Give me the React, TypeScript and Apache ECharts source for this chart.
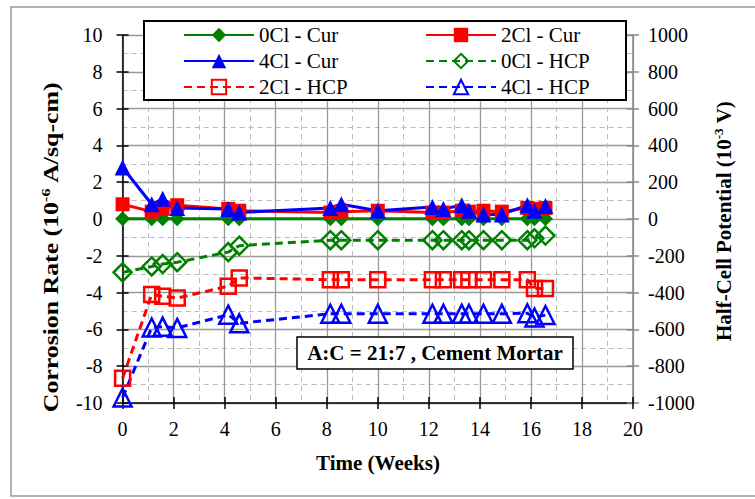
import React, { useEffect, useRef } from "react";
import * as echarts from "echarts";

const weeks = [0, 1.14, 1.57, 2.14, 4.14, 4.57, 8.14, 8.57, 10, 12.14, 12.57, 13.29, 13.57, 14.14, 14.86, 15.86, 16.14, 16.57];
const cur0 = [0.02, 0.02, 0.02, 0.02, 0.02, 0.02, 0.02, 0.02, 0.02, 0.02, 0.02, 0.02, 0.02, 0.02, 0.02, 0.02, 0.02, 0.02];
const cur2 = [0.8, 0.4, 0.55, 0.75, 0.55, 0.45, 0.35, 0.4, 0.45, 0.35, 0.35, 0.45, 0.4, 0.45, 0.4, 0.6, 0.55, 0.6];
const cur4 = [2.8, 0.8, 1.1, 0.6, 0.55, 0.35, 0.6, 0.8, 0.45, 0.65, 0.55, 0.75, 0.45, 0.25, 0.25, 0.75, 0.45, 0.7];
const hcp0 = [-290, -258, -245, -235, -180, -145, -115, -115, -115, -115, -115, -115, -115, -115, -115, -115, -105, -90];
const hcp2 = [-865, -410, -420, -430, -365, -320, -330, -330, -330, -330, -330, -330, -330, -330, -330, -330, -378, -378];
const hcp4 = [-970, -590, -585, -592, -520, -567, -515, -515, -515, -515, -515, -515, -515, -515, -515, -512, -535, -522];

const leftTicks = [-10, 10, 2];
const rightTicks = [-1000, 1000, 200];
const xTicks = [0, 20, 2];

const FONT = "Liberation Serif, Times New Roman, serif";
const GREEN = "#008000";
const RED = "#ff0000";
const BLUE = "#0000ff";

const pair = (ys: number[]) => weeks.map((w, i) => [w, ys[i]]);

export default function App() {
  const ref = useRef<HTMLDivElement>(null);
  useEffect(() => {
    const chart = echarts.init(ref.current!, null, { renderer: "svg" });
    const label = { fontFamily: FONT, fontSize: 20, color: "#000", formatter: (v: number) => String(v) };
    const solid = (name: string, color: string, symbol: string, data: number[], size: number) => ({
      name,
      type: "line",
      xAxisIndex: 0,
      yAxisIndex: 0,
      data: pair(data),
      symbol,
      symbolSize: size,
      lineStyle: { color, width: 3 },
      itemStyle: { color },
    });
    const dashed = (name: string, color: string, symbol: string, data: number[], size: number) => ({
      name,
      type: "line",
      xAxisIndex: 0,
      yAxisIndex: 2,
      data: pair(data),
      symbol,
      symbolSize: size,
      lineStyle: { color, width: 3, type: [8, 5] },
      itemStyle: { color: "rgba(255,255,255,0)", borderColor: color, borderWidth: 2.5 },
    });
    const legendCommon = {
      orient: "vertical",
      top: 22,
      padding: 0,
      itemWidth: 70,
      itemHeight: 18,
      itemGap: 0,
      textStyle: { fontFamily: FONT, fontSize: 21, color: "#000", lineHeight: 26 },
    };
    const titleRich = {
      n: { font: `bold 21px ${FONT}`, fill: "#000", lineHeight: 24 },
      s: { font: `bold 13px ${FONT}`, fill: "#000", verticalAlign: "top", lineHeight: 14 },
    };
    const option: any = {
      animation: false,
      backgroundColor: "#fff",
      grid: { left: 122.6, right: 122, top: 35, bottom: 96 },
      xAxis: [
        {
          type: "value",
          min: xTicks[0],
          max: xTicks[1],
          interval: xTicks[2],
          axisLine: { onZero: false, lineStyle: { color: "#000", width: 1.5 } },
          axisTick: { show: true, length: 6, lineStyle: { color: "#000", width: 1.5 } },
          axisLabel: { ...label, margin: 16 },
          splitLine: { show: true, lineStyle: { color: "#999", width: 1.3 } },
          minorTick: { show: false, splitNumber: 2 },
          minorSplitLine: { show: true, lineStyle: { color: "#bbb", width: 1, type: [5, 4] } },
        },
        {
          type: "value",
          min: xTicks[0],
          max: xTicks[1],
          interval: xTicks[2],
          position: "bottom",
          axisLine: { show: false, onZero: false },
          axisTick: { show: true, inside: true, length: 6, lineStyle: { color: "#000", width: 1.5 } },
          axisLabel: { show: false },
          splitLine: { show: false },
        },
      ],
      yAxis: [
        {
          type: "value",
          min: leftTicks[0],
          max: leftTicks[1],
          interval: leftTicks[2],
          position: "left",
          axisLine: { show: true, onZero: false, lineStyle: { color: "#000", width: 1.5 } },
          axisTick: { show: true, length: 6, lineStyle: { color: "#000", width: 1.5 } },
          axisLabel: { ...label, margin: 20 },
          splitLine: { show: true, lineStyle: { color: "#999", width: 1.3 } },
          minorTick: { show: false, splitNumber: 2 },
          minorSplitLine: { show: true, lineStyle: { color: "#bbb", width: 1, type: [5, 4] } },
        },
        {
          type: "value",
          min: leftTicks[0],
          max: leftTicks[1],
          interval: leftTicks[2],
          position: "left",
          axisLine: { show: false, onZero: false },
          axisTick: { show: true, inside: true, length: 6, lineStyle: { color: "#000", width: 1.5 } },
          axisLabel: { show: false },
          splitLine: { show: false },
        },
        {
          type: "value",
          min: rightTicks[0],
          max: rightTicks[1],
          interval: rightTicks[2],
          position: "right",
          axisLine: { show: true, onZero: false, lineStyle: { color: "#888", width: 1.5 } },
          axisTick: { show: true, length: 6, lineStyle: { color: "#888", width: 1.5 } },
          axisLabel: { ...label, margin: 15 },
          splitLine: { show: false },
        },
        {
          type: "value",
          min: rightTicks[0],
          max: rightTicks[1],
          interval: rightTicks[2],
          position: "right",
          axisLine: { show: false, onZero: false },
          axisTick: { show: true, inside: true, length: 6, lineStyle: { color: "#888", width: 1.5 } },
          axisLabel: { show: false },
          splitLine: { show: false },
        },
      ],
      legend: [
        { ...legendCommon, left: 183, data: ["0Cl - Cur", "4Cl - Cur", "2Cl - HCP"] },
        { ...legendCommon, left: 425, data: ["2Cl - Cur", "0Cl - HCP", "4Cl - HCP"] },
      ],
      graphic: [
        {
          type: "rect",
          z: 0,
          silent: true,
          shape: { x: 11, y: 7, width: 760, height: 489 },
          style: { fill: "none", stroke: "#999", lineWidth: 1.5 },
        },
        {
          type: "rect",
          z: 3,
          shape: { x: 144, y: 21, width: 482, height: 79 },
          style: { fill: "#fff", stroke: "#000", lineWidth: 2 },
        },
        {
          type: "rect",
          z: 10,
          shape: { x: 297, y: 337, width: 276, height: 32 },
          style: { fill: "#fff", stroke: "#000", lineWidth: 1.5 },
        },
        {
          type: "text",
          z: 11,
          x: 435,
          y: 353,
          style: {
            text: "A:C = 21:7 , Cement Mortar",
            font: `bold 21px ${FONT}`,
            fill: "#000",
            align: "center",
            verticalAlign: "middle",
          },
        },
        {
          type: "text",
          z: 11,
          x: 378,
          y: 463,
          style: {
            text: "Time (Weeks)",
            font: `bold 21px ${FONT}`,
            fill: "#000",
            align: "center",
            verticalAlign: "middle",
          },
        },
        {
          type: "text",
          z: 11,
          x: 51,
          y: 247,
          rotation: Math.PI / 2,
          scaleX: 1.23,
          style: {
            text: "{n|Corrosion Rate (10}{s|-6}{n| A/sq-cm)}",
            align: "center",
            verticalAlign: "middle",
            fill: "#000",
            rich: titleRich,
          },
        },
        {
          type: "text",
          z: 11,
          x: 724,
          y: 221,
          rotation: Math.PI / 2,
          style: {
            text: "{n|Half-Cell Potential (10}{s|-3}{n| V)}",
            align: "center",
            verticalAlign: "middle",
            fill: "#000",
            rich: titleRich,
          },
        },
      ],
      series: [
        solid("0Cl - Cur", GREEN, "diamond", cur0, 15),
        solid("2Cl - Cur", RED, "rect", cur2, 14),
        solid("4Cl - Cur", BLUE, "triangle", cur4, 16),
        dashed("0Cl - HCP", GREEN, "diamond", hcp0, 18),
        dashed("2Cl - HCP", RED, "rect", hcp2, 15),
        dashed("4Cl - HCP", BLUE, "triangle", hcp4, 18),
      ],
    };
    chart.setOption(option);
    return () => chart.dispose();
  }, []);
  return <div ref={ref} style={{ position: "fixed", left: 0, top: 0, width: 755, height: 499 }} />;
}
